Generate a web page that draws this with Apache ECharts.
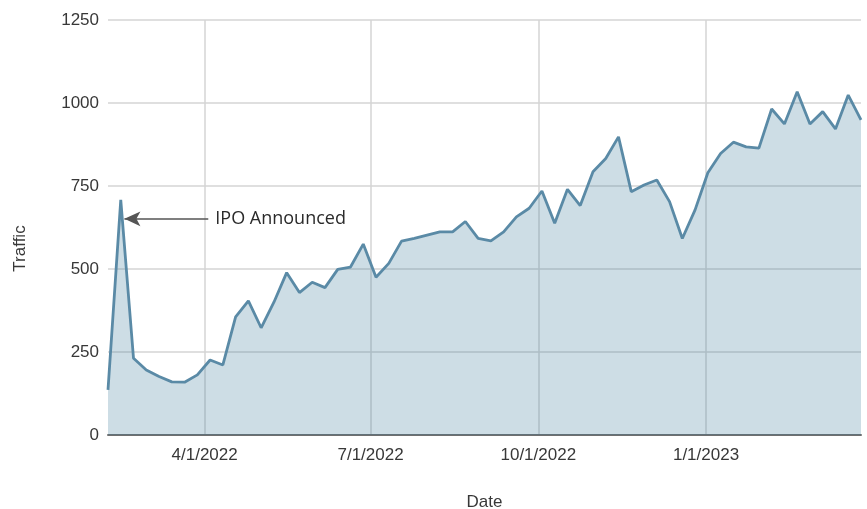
<!DOCTYPE html>
<html>
<head>
<meta charset="utf-8">
<script src="https://cdn.jsdelivr.net/npm/echarts@6/dist/echarts.min.js"></script>
<style>
  html, body { margin: 0; padding: 0; background: #fff; }
  #chart { width: 867px; height: 509px; }
</style>
</head>
<body>
<div id="chart"></div>
<script>
// Weekly dates
var dates = [
  '2022-02-07','2022-02-14','2022-02-21','2022-02-28','2022-03-07','2022-03-14','2022-03-21','2022-03-28',
  '2022-04-04','2022-04-11','2022-04-18','2022-04-25','2022-05-02','2022-05-09','2022-05-16','2022-05-23',
  '2022-05-30','2022-06-06','2022-06-13','2022-06-20','2022-06-27','2022-07-04','2022-07-11','2022-07-18',
  '2022-07-25','2022-08-01','2022-08-08','2022-08-15','2022-08-22','2022-08-29','2022-09-05','2022-09-12',
  '2022-09-19','2022-09-26','2022-10-03','2022-10-10','2022-10-17','2022-10-24','2022-10-31','2022-11-07',
  '2022-11-14','2022-11-21','2022-11-28','2022-12-05','2022-12-12','2022-12-19','2022-12-26','2023-01-02',
  '2023-01-09','2023-01-16','2023-01-23','2023-01-30','2023-02-06','2023-02-13','2023-02-20','2023-02-27',
  '2023-03-06','2023-03-13','2023-03-20','2023-03-27'
];
// Traffic values
var traffic = [
  136, 708, 231, 196, 176, 160, 159, 181,
  226, 211, 356, 404, 323, 400, 489, 429,
  460, 444, 499, 506, 575, 475, 517, 584,
  592, 602, 612, 612, 643, 592, 585, 612,
  657, 683, 735, 638, 740, 691, 793, 833,
  898, 733, 753, 768, 703, 592, 678, 790,
  848, 882, 868, 864, 982, 937, 1034, 937,
  974, 922, 1024, 949
];
// X tick dates and labels
var xTickDates = ['2022-04-01', '2022-07-01', '2022-10-01', '2023-01-01'];
var xTickLabels = ['4/1/2022', '7/1/2022', '10/1/2022', '1/1/2023'];
// Y ticks
var yTicks = [0, 250, 500, 750, 1000, 1250];
// Annotation
var annotationText = 'IPO Announced';
var annotationTip = '2022-02-16';
var annotationTail = '2022-04-03';
var annotationValue = 651;

function toTime(s) {
  var p = s.split('-');
  return new Date(+p[0], +p[1] - 1, +p[2]).getTime();
}

var tickTimes = xTickDates.map(toTime);
var seriesData = dates.map(function (d, i) { return [toTime(d), traffic[i]]; });

var chart = echarts.init(document.getElementById('chart'), null, { renderer: 'canvas' });
var axisFont = 'Liberation Sans, Arial, sans-serif';

chart.setOption({
  animation: false,
  backgroundColor: '#ffffff',
  grid: { left: 108, right: 6, top: 20, bottom: 74, containLabel: false, outerBoundsMode: 'none' },
  xAxis: {
    type: 'value',
    scale: true,
    min: toTime(dates[0]),
    max: toTime(dates[dates.length - 1]),
    name: 'Date',
    nameLocation: 'middle',
    nameGap: 59,
    nameTextStyle: { fontFamily: axisFont, fontSize: 17, color: '#383838' },
    axisLine: { show: true, onZero: false, lineStyle: { color: '#6f6f6f', width: 2 } },
    axisTick: { show: false, customValues: tickTimes },
    axisLabel: {
      customValues: tickTimes,
      fontFamily: axisFont, fontSize: 17, color: '#383838', margin: 12,
      formatter: function (v) {
        var idx = tickTimes.indexOf(v);
        return idx >= 0 ? xTickLabels[idx] : '';
      }
    },
    splitLine: { show: true, lineStyle: { color: '#d4d4d4', width: 1.5 } }
  },
  yAxis: {
    type: 'value',
    min: yTicks[0],
    max: yTicks[yTicks.length - 1],
    interval: 250,
    name: 'Traffic',
    nameLocation: 'middle',
    nameGap: 79,
    nameTextStyle: { fontFamily: axisFont, fontSize: 17, color: '#383838', padding: [0, 42, 0, 0] },
    axisLine: { show: false },
    axisTick: { show: false },
    axisLabel: {
      fontFamily: axisFont, fontSize: 17, color: '#383838', margin: 9,
      formatter: function (v) { return String(v); }
    },
    splitLine: { show: true, lineStyle: { color: '#d4d4d4', width: 1.5 } }
  },
  series: [{
    type: 'line',
    data: seriesData,
    showSymbol: false,
    symbol: 'none',
    lineStyle: { color: '#5a8aa6', width: 2.8 },
    areaStyle: { color: 'rgba(55,118,150,0.25)', opacity: 1 },
    z: 3,
    markLine: {
      silent: true,
      animation: false,
      symbol: ['arrow', 'none'],
      lineStyle: { color: '#555', width: 1.5, type: 'solid' },
      label: {
        show: true,
        position: 'end',
        distance: 7,
        formatter: annotationText,
        fontFamily: 'Open Sans, sans-serif',
        fontSize: 18,
        color: '#2a2a2a'
      },
      data: [[
        { coord: [toTime(annotationTip), annotationValue], symbol: 'arrow', symbolSize: [11, 16] },
        { coord: [toTime(annotationTail), annotationValue], symbol: 'none' }
      ]]
    }
  }]
});
</script>
</body>
</html>
